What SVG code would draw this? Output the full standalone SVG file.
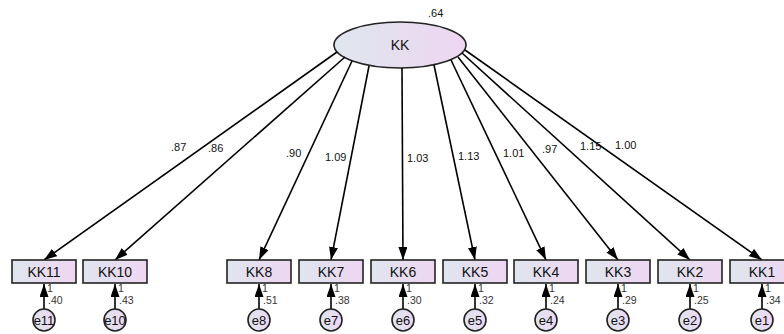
<svg xmlns="http://www.w3.org/2000/svg" width="784" height="334" viewBox="0 0 784 334">
<defs>
<linearGradient id="g" x1="0" y1="0" x2="1" y2="0">
<stop offset="0" stop-color="#dfe6ee"/>
<stop offset="1" stop-color="#eed6f2"/>
</linearGradient>
<marker id="ah" markerUnits="userSpaceOnUse" markerWidth="13" markerHeight="9" refX="13" refY="4.5" orient="auto">
<path d="M0,0 L13,4.5 L0,9 z" fill="#000"/>
</marker>
<style>
.n{fill:url(#g);stroke:#222;stroke-width:1.6}
.t{font-family:"Liberation Sans",Arial,sans-serif;fill:#111;text-anchor:middle}
.b{font-size:14px}
.e{font-size:13px}
.w{font-family:"Liberation Sans",Arial,sans-serif;font-size:11px;fill:#111}
.s{font-family:"Liberation Sans",Arial,sans-serif;font-size:10.5px;fill:#333}
.c line{stroke:#000;stroke-width:1.6;marker-end:url(#ah)}
</style>
</defs>
<rect width="784" height="334" fill="#fff"/>
<g id="KK">
<ellipse class="n" cx="400" cy="45" rx="66" ry="23"/>
<text class="t" x="400" y="50" font-size="14">KK</text>
<text class="w" x="428" y="17">.64</text>
</g>
<g id="connectors" class="c">
<line x1="337" y1="52" x2="44" y2="260"/>
<line x1="345" y1="57" x2="115" y2="260"/>
<line x1="352" y1="61" x2="259" y2="260"/>
<line x1="369" y1="66" x2="331" y2="260"/>
<line x1="402" y1="68" x2="403" y2="260"/>
<line x1="434" y1="65" x2="475" y2="260"/>
<line x1="451" y1="60" x2="546" y2="260"/>
<line x1="458" y1="57" x2="618" y2="260"/>
<line x1="462" y1="53" x2="690" y2="260"/>
<line x1="465" y1="50" x2="762" y2="260"/>
<line x1="44" y1="309" x2="44" y2="284"/>
<line x1="115" y1="309" x2="115" y2="284"/>
<line x1="259" y1="309" x2="259" y2="284"/>
<line x1="331" y1="309" x2="331" y2="284"/>
<line x1="403" y1="309" x2="403" y2="284"/>
<line x1="475" y1="309" x2="475" y2="284"/>
<line x1="546" y1="309" x2="546" y2="284"/>
<line x1="618" y1="309" x2="618" y2="284"/>
<line x1="690" y1="309" x2="690" y2="284"/>
<line x1="762" y1="309" x2="762" y2="284"/>
</g>
<g id="loadings">
<text class="w" x="171" y="151">.87</text>
<text class="w" x="208" y="152">.86</text>
<text class="w" x="286" y="157">.90</text>
<text class="w" x="325" y="161">1.09</text>
<text class="w" x="407" y="162">1.03</text>
<text class="w" x="458" y="160">1.13</text>
<text class="w" x="503" y="157">1.01</text>
<text class="w" x="542" y="153">.97</text>
<text class="w" x="580" y="150">1.15</text>
<text class="w" x="615" y="149">1.00</text>
</g>
<g id="KK11"><rect class="n" x="12" y="260" width="64" height="23"/><text class="t b" x="44" y="277">KK11</text></g>
<g id="KK10"><rect class="n" x="83" y="260" width="64" height="23"/><text class="t b" x="115" y="277">KK10</text></g>
<g id="KK8"><rect class="n" x="227" y="260" width="64" height="23"/><text class="t b" x="259" y="277">KK8</text></g>
<g id="KK7"><rect class="n" x="299" y="260" width="64" height="23"/><text class="t b" x="331" y="277">KK7</text></g>
<g id="KK6"><rect class="n" x="371" y="260" width="64" height="23"/><text class="t b" x="403" y="277">KK6</text></g>
<g id="KK5"><rect class="n" x="443" y="260" width="64" height="23"/><text class="t b" x="475" y="277">KK5</text></g>
<g id="KK4"><rect class="n" x="514" y="260" width="64" height="23"/><text class="t b" x="546" y="277">KK4</text></g>
<g id="KK3"><rect class="n" x="586" y="260" width="64" height="23"/><text class="t b" x="618" y="277">KK3</text></g>
<g id="KK2"><rect class="n" x="658" y="260" width="64" height="23"/><text class="t b" x="690" y="277">KK2</text></g>
<g id="KK1"><rect class="n" x="730" y="260" width="64" height="23"/><text class="t b" x="762" y="277">KK1</text></g>
<g id="e11"><circle class="n" cx="44" cy="320" r="11"/><text class="t e" x="44" y="325">e11</text><text class="s" x="47" y="292">1</text><text class="s" x="48" y="304">.40</text></g>
<g id="e10"><circle class="n" cx="115" cy="320" r="11"/><text class="t e" x="115" y="325">e10</text><text class="s" x="118" y="292">1</text><text class="s" x="119" y="304">.43</text></g>
<g id="e8"><circle class="n" cx="259" cy="320" r="11"/><text class="t e" x="259" y="325">e8</text><text class="s" x="262" y="292">1</text><text class="s" x="263" y="304">.51</text></g>
<g id="e7"><circle class="n" cx="331" cy="320" r="11"/><text class="t e" x="331" y="325">e7</text><text class="s" x="334" y="292">1</text><text class="s" x="335" y="304">.38</text></g>
<g id="e6"><circle class="n" cx="403" cy="320" r="11"/><text class="t e" x="403" y="325">e6</text><text class="s" x="406" y="292">1</text><text class="s" x="407" y="304">.30</text></g>
<g id="e5"><circle class="n" cx="475" cy="320" r="11"/><text class="t e" x="475" y="325">e5</text><text class="s" x="478" y="292">1</text><text class="s" x="479" y="304">.32</text></g>
<g id="e4"><circle class="n" cx="546" cy="320" r="11"/><text class="t e" x="546" y="325">e4</text><text class="s" x="549" y="292">1</text><text class="s" x="550" y="304">.24</text></g>
<g id="e3"><circle class="n" cx="618" cy="320" r="11"/><text class="t e" x="618" y="325">e3</text><text class="s" x="621" y="292">1</text><text class="s" x="622" y="304">.29</text></g>
<g id="e2"><circle class="n" cx="690" cy="320" r="11"/><text class="t e" x="690" y="325">e2</text><text class="s" x="693" y="292">1</text><text class="s" x="694" y="304">.25</text></g>
<g id="e1"><circle class="n" cx="762" cy="320" r="11"/><text class="t e" x="762" y="325">e1</text><text class="s" x="765" y="292">1</text><text class="s" x="766" y="304">.34</text></g>
</svg>
